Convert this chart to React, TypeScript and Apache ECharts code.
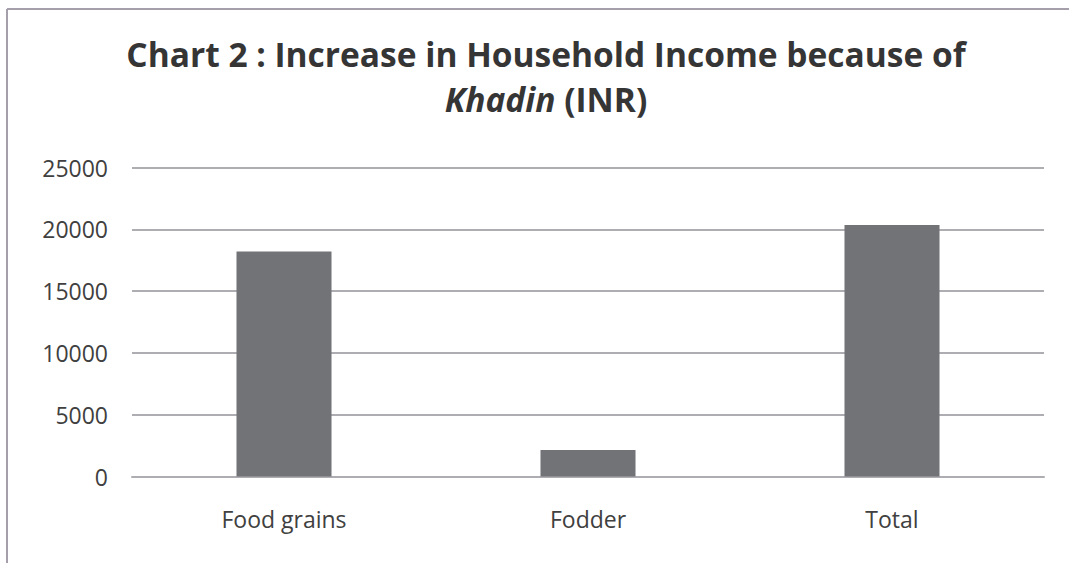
import React, { useEffect, useRef } from "react";
import * as echarts from "echarts";

const categories = ["Food grains", "Fodder", "Total"];
const incomeValues = [18200, 2150, 20350];
const yTicks = [0, 5000, 10000, 15000, 20000, 25000];

const TITLE_FONT = "'Open Sans', 'Noto Sans', sans-serif";
const LABEL_FONT = "'Open Sans', 'Noto Sans', sans-serif";

export default function App() {
  const ref = useRef<HTMLDivElement>(null);
  useEffect(() => {
    if (!ref.current) return;
    const chart = echarts.init(ref.current, null, { renderer: "svg" });
    chart.setOption({
      animation: false,
      backgroundColor: "#ffffff",
      title: {
        text: "Chart 2 : Increase in Household Income because of\n{i|Khadin} (INR)",
        left: 546,
        top: 31,
        padding: 0,
        textAlign: "center",
        textStyle: {
          fontFamily: TITLE_FONT,
          fontSize: 33.5,
          fontWeight: "bold",
          color: "#353535",
          lineHeight: 45,
          rich: {
            i: {
              fontFamily: TITLE_FONT,
              fontSize: 33.5,
              fontWeight: "bold",
              fontStyle: "italic",
              color: "#353535",
              lineHeight: 45,
            },
          },
        },
      },
      graphic: [
        {
          type: "line",
          shape: { x1: 7, y1: 9, x2: 1069, y2: 9 },
          style: { stroke: "#a49fab", lineWidth: 2 },
          silent: true,
        },
        {
          type: "line",
          shape: { x1: 7, y1: 9, x2: 7, y2: 563 },
          style: { stroke: "#a49fab", lineWidth: 2 },
          silent: true,
        },
      ],
      grid: { left: 132, right: 25, top: 167.5, bottom: 86.5, containLabel: false },
      xAxis: {
        type: "category",
        data: categories,
        axisTick: { show: false },
        axisLine: { show: true, lineStyle: { color: "#adadb2", width: 2 } },
        axisLabel: {
          fontFamily: LABEL_FONT,
          fontSize: 23,
          color: "#404040",
          margin: 31,
        },
      },
      yAxis: {
        type: "value",
        min: yTicks[0],
        max: yTicks[yTicks.length - 1],
        interval: 5000,
        axisLine: { show: false },
        axisTick: { show: false },
        splitLine: { lineStyle: { color: "#adadb2", width: 2 } },
        axisLabel: {
          fontFamily: LABEL_FONT,
          fontSize: 23,
          color: "#404040",
          margin: 24,
          formatter: (v: number) => String(v),
        },
      },
      series: [
        {
          type: "bar",
          data: incomeValues,
          barWidth: 95,
          itemStyle: { color: "#727377" },
        },
      ],
    });
    return () => chart.dispose();
  }, []);
  return (
    <div style={{ position: "absolute", left: 0, top: 0, width: 1069, height: 563 }}>
      <div ref={ref} style={{ width: 1069, height: 563 }} />
    </div>
  );
}
